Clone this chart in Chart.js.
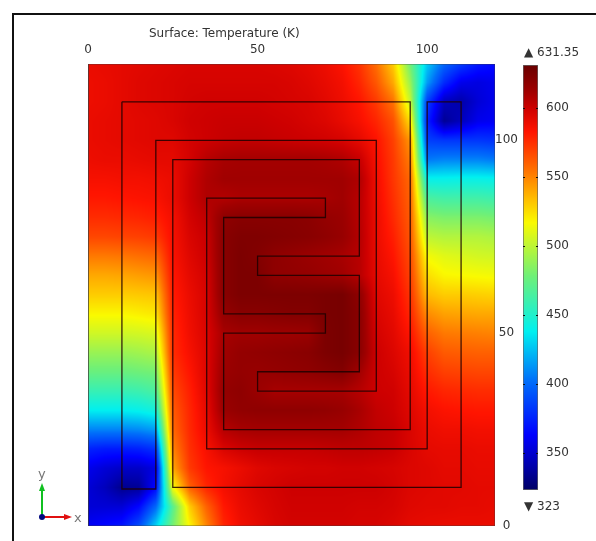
<!DOCTYPE html>
<html>
<head>
<meta charset="utf-8">
<script src="https://cdn.jsdelivr.net/npm/chart.js@4"></script>
<style>
  html, body { margin: 0; padding: 0; background: #fff; }
  #page { position: relative; width: 596px; height: 541px; overflow: hidden; font: 12px "DejaVu Sans", sans-serif; color: #333; }
  #frame { position: absolute; left: 12px; top: 13px; width: 600px; height: 600px; border-left: 2px solid #111; border-top: 2px solid #111; }
  .label { position: absolute; white-space: nowrap; line-height: 14px; }
  canvas { position: absolute; }
  #triad { position: absolute; left: 30px; top: 465px; }
</style>
</head>
<body>
<div id="page">
  <div id="frame"></div>
  <canvas id="surfaceChart" width="596" height="541" style="left:0;top:0;width:596px;height:541px"></canvas>
  <canvas id="barChart" width="81" height="440" style="left:515px;top:60px;width:81px;height:440px"></canvas>
  <div class="label" style="left:149px;top:26px">Surface: Temperature (K)</div>
  <div class="label" style="left:524px;top:45px;width:56px;overflow:hidden">▲ 631.35</div>
  <div class="label" style="left:524px;top:499px">▼ 323</div>
  <svg id="triad" width="60" height="65">
    <text x="8" y="13" font-family="DejaVu Sans" font-size="13" fill="#777">y</text>
    <text x="44" y="57" font-family="DejaVu Sans" font-size="13" fill="#777">x</text>
    <line x1="12" y1="52" x2="12" y2="24" stroke="#10c020" stroke-width="2"/>
    <polygon points="12,18 9,26 15,26" fill="#10c020"/>
    <line x1="12" y1="52" x2="36" y2="52" stroke="#e01010" stroke-width="2"/>
    <polygon points="42,52 34,49 34,55" fill="#e01010"/>
    <circle cx="12" cy="52" r="3" fill="#000a80"/>
  </svg>
</div>
<script>
// grid nodes of the surface, in model units
const xNodes = [0,5,10,15,20,25,30,35,40,45,50,55,60,65,70,75,80,85,90,95,100,105,110,115,120];
const yNodes = [120,115,110,105,100,95,90,85,80,75,70,65,60,55,50,45,40,35,30,25,20,15,10,5,0];

// temperature (K), one row per yNodes entry
const temperature = [
  [590,591,592,593,594,595,596,596,596,596,596,595,594,592,589,584,574,556,530,478,428,400,385,372,366],
  [589,590,592,594,595,596,597,597,597,597,597,597,596,594,591,587,578,563,540,490,415,378,358,355,358],
  [589,590,592,594,595,596,598,599,599,599,599,598,597,596,593,589,583,572,555,503,385,345,340,352,358],
  [590,591,592,593,594,596,599,600,601,601,601,600,599,597,595,591,586,578,565,525,375,335,345,358,360],
  [590,591,592,593,594,594,598,600,602,603,603,602,601,600,599,597,592,584,570,545,385,382,382,382,380],
  [589,590,590,591,592,592,598,606,610,611,611,611,611,611,610,608,602,586,572,552,405,408,408,408,405],
  [586,586,587,587,588,590,600,608,612,612,612,612,612,612,612,612,608,588,573,558,440,440,441,441,440],
  [582,582,583,584,585,590,600,608,607,609,609,609,609,609,610,612,606,589,575,560,465,462,462,462,460],
  [576,576,577,578,580,587,598,604,618,620,620,620,620,619,616,614,606,590,577,562,485,482,482,482,480],
  [568,568,569,570,572,586,596,601,620,623,623,622,621,620,618,615,607,590,580,564,500,497,497,497,495],
  [553,553,554,556,558,585,594,600,620,624,622,618,616,614,612,610,606,591,583,567,515,510,508,506,505],
  [540,540,541,543,545,583,592,598,620,624,624,618,617,616,614,612,606,592,586,570,525,518,517,516,515],
  [530,530,530,531,532,581,590,597,620,624,624,624,624,624,625,626,618,594,589,574,535,530,530,529,528],
  [518,518,518,520,522,579,589,597,616,620,620,621,622,622,625,626,620,596,591,578,548,542,541,540,540],
  [505,505,505,506,508,577,588,596,610,612,612,613,613,614,624,626,620,598,593,583,560,553,552,551,550],
  [490,490,490,492,495,576,586,595,612,616,617,618,619,620,624,626,620,600,595,588,570,562,561,560,560],
  [476,476,476,478,480,572,583,595,614,616,615,616,617,618,620,622,612,600,597,590,576,570,569,568,568],
  [458,458,458,460,465,567,580,594,616,618,614,610,610,610,610,610,606,600,599,592,582,578,577,576,576],
  [438,438,438,440,445,562,578,592,614,617,618,618,618,618,617,615,610,603,600,594,587,584,583,582,582],
  [408,408,408,410,415,558,577,590,606,610,611,611,611,611,611,611,608,604,602,596,590,588,588,587,587],
  [375,372,372,374,380,550,575,586,596,600,602,602,602,602,603,604,604,603,601,596,592,591,591,590,590],
  [358,352,348,348,355,540,572,583,586,590,594,596,597,598,598,599,599,598,597,595,594,592,592,591,591],
  [352,345,333,335,365,515,560,578,587,592,596,598,600,600,600,600,600,600,598,595,594,593,593,592,592],
  [352,352,352,365,400,470,530,560,582,590,594,597,599,599,599,599,598,598,597,594,593,593,592,592,591],
  [360,365,370,390,430,480,518,550,578,588,592,596,598,598,598,598,597,597,595,592,591,590,590,590,590]
];

// coil outline, closed
const coilX = [10,95,95,40,40,70,70,40,40,70,70,35,35,100,100,110,110,25,25,80,80,50,50,80,80,50,50,85,85,20,20,10,10];
const coilY = [110,110,25,25,50,50,55,55,80,80,85,85,20,20,110,110,10,10,95,95,70,70,65,65,40,40,35,35,100,100,9.6,9.6,110];

const xTicks = [0,50,100];
const yTicks = [0,50,100];
const barTicks = [350,400,450,500,550,600];
const tempMin = 323;
const tempMax = 631.35;

// rainbow colour table of the legend: K, r, g, b
const colorStops = [
  [323,0,0,100],[340,0,0,170],[363,0,0,255],[402,0,110,250],[438,0,240,240],
  [478,110,240,120],[517,250,250,0],[534,255,190,0],[556,255,110,0],[583,255,20,0],
  [600,205,0,0],[612,160,0,0],[624,125,0,0],[631.35,105,0,0]
];

function tempColor(t) {
  for (let i = 1; i < colorStops.length; i++) {
    const a = colorStops[i - 1], b = colorStops[i];
    if (t <= b[0]) {
      const f = Math.max(0, (t - a[0]) / (b[0] - a[0]));
      return [a[1] + (b[1] - a[1]) * f, a[2] + (b[2] - a[2]) * f, a[3] + (b[3] - a[3]) * f];
    }
  }
  return colorStops[colorStops.length - 1].slice(1);
}

const surfaceData = [];
yNodes.forEach((y, r) => xNodes.forEach((x, c) => surfaceData.push({ x, y, t: temperature[r][c] })));

// shades the surface from the first dataset, going through the scales for every pixel
const surfacePlugin = {
  id: 'surfaceShade',
  beforeDatasetsDraw(chart) {
    const { ctx, chartArea: a, scales } = chart;
    const nodes = chart.data.datasets[0].data;
    const nx = xNodes.length, ny = yNodes.length;
    const dx = xNodes[1] - xNodes[0], dy = yNodes[0] - yNodes[1];
    const w = Math.round(a.right - a.left), h = Math.round(a.bottom - a.top);
    const img = ctx.createImageData(w, h);
    for (let j = 0; j < h; j++) {
      const vy = scales.y.getValueForPixel(a.top + j + 0.5);
      const rf = Math.min(ny - 1.001, Math.max(0, (yNodes[0] - vy) / dy));
      const r = Math.floor(rf), fy = rf - r;
      for (let i = 0; i < w; i++) {
        const vx = scales.x.getValueForPixel(a.left + i + 0.5);
        const cf = Math.min(nx - 1.001, Math.max(0, vx / dx));
        const c = Math.floor(cf), fx = cf - c;
        const t = nodes[r * nx + c].t * (1 - fx) * (1 - fy) + nodes[r * nx + c + 1].t * fx * (1 - fy)
                + nodes[(r + 1) * nx + c].t * (1 - fx) * fy + nodes[(r + 1) * nx + c + 1].t * fx * fy;
        const col = tempColor(t), k = (j * w + i) * 4;
        img.data[k] = col[0]; img.data[k + 1] = col[1]; img.data[k + 2] = col[2]; img.data[k + 3] = 255;
      }
    }
    ctx.putImageData(img, Math.round(a.left), Math.round(a.top));
  }
};

new Chart(document.getElementById('surfaceChart'), {
  type: 'scatter',
  data: {
    datasets: [
      { label: 'Temperature', data: surfaceData, pointRadius: 0, showLine: false },
      {
        label: 'Coil',
        data: coilX.map((x, i) => ({ x, y: coilY[i] })),
        showLine: true, pointRadius: 0, borderColor: 'rgba(30,0,0,0.85)', borderWidth: 1.3, fill: false, tension: 0
      },
      {
        label: 'Boundary',
        data: [{ x: 0, y: 0 }, { x: 120, y: 0 }, { x: 120, y: 119.8 }, { x: 0, y: 119.8 }, { x: 0, y: 0 }],
        showLine: true, pointRadius: 0, borderColor: 'rgba(60,60,60,0.7)', borderWidth: 1, fill: false
      }
    ]
  },
  plugins: [surfacePlugin],
  options: {
    responsive: false, animation: false, events: [],
    layout: { padding: { left: 88, right: 77, top: 34, bottom: 15 } },
    plugins: { legend: { display: false }, tooltip: { enabled: false } },
    scales: {
      x: {
        type: 'linear', position: 'top', min: 0, max: 120,
        grid: { display: false, drawTicks: false }, border: { display: false },
        afterBuildTicks: s => { s.ticks = xTicks.map(value => ({ value })); },
        afterFit: s => { s.height = 30; },
        ticks: { color: '#333', font: { family: 'DejaVu Sans', size: 12 }, padding: 7, maxRotation: 0 }
      },
      y: {
        type: 'linear', position: 'right', min: 0, max: 119.8,
        grid: { display: false, drawTicks: false }, border: { display: false },
        afterBuildTicks: s => { s.ticks = yTicks.map(value => ({ value })); },
        afterFit: s => { s.width = 24; },
        ticks: { color: '#333', font: { family: 'DejaVu Sans', size: 12 }, padding: 0, crossAlign: 'center' }
      }
    }
  }
});

// little ticks on both edges of the colour bar
const barTickPlugin = {
  id: 'barTickMarks',
  afterDatasetsDraw(chart) {
    const { ctx, chartArea: a, scales } = chart;
    ctx.save();
    ctx.fillStyle = '#111';
    barTicks.forEach(v => {
      const y = Math.round(scales.y.getPixelForValue(v));
      ctx.fillRect(a.left, y, 2, 1);
      ctx.fillRect(a.right - 2, y, 2, 1);
    });
    ctx.restore();
  }
};

new Chart(document.getElementById('barChart'), {
  type: 'bar',
  data: {
    labels: ['T'],
    datasets: [{
      data: [[tempMin, tempMax]],
      barPercentage: 1, categoryPercentage: 1,
      borderColor: '#666', borderWidth: 1, borderSkipped: false,
      backgroundColor(c) {
        const { chartArea, scales } = c.chart;
        if (!chartArea) return '#000';
        const g = c.chart.ctx.createLinearGradient(0, scales.y.getPixelForValue(tempMin), 0, scales.y.getPixelForValue(tempMax));
        colorStops.forEach(s => g.addColorStop((s[0] - tempMin) / (tempMax - tempMin), `rgb(${s[1]},${s[2]},${s[3]})`));
        return g;
      }
    }]
  },
  plugins: [barTickPlugin],
  options: {
    responsive: false, animation: false, events: [],
    layout: { padding: { left: 8, right: 0, top: 5, bottom: 10 } },
    plugins: { legend: { display: false }, tooltip: { enabled: false } },
    scales: {
      x: { display: false },
      y: {
        position: 'right', min: tempMin, max: tempMax,
        grid: { display: false, drawTicks: false }, border: { display: false },
        afterBuildTicks: s => { s.ticks = barTicks.map(value => ({ value })); },
        afterFit: s => { s.width = 58; s.paddingTop = 0; s.paddingBottom = 0; },
        ticks: { color: '#333', font: { family: 'DejaVu Sans', size: 12 }, padding: 8 }
      }
    }
  }
});
</script>
</body>
</html>
